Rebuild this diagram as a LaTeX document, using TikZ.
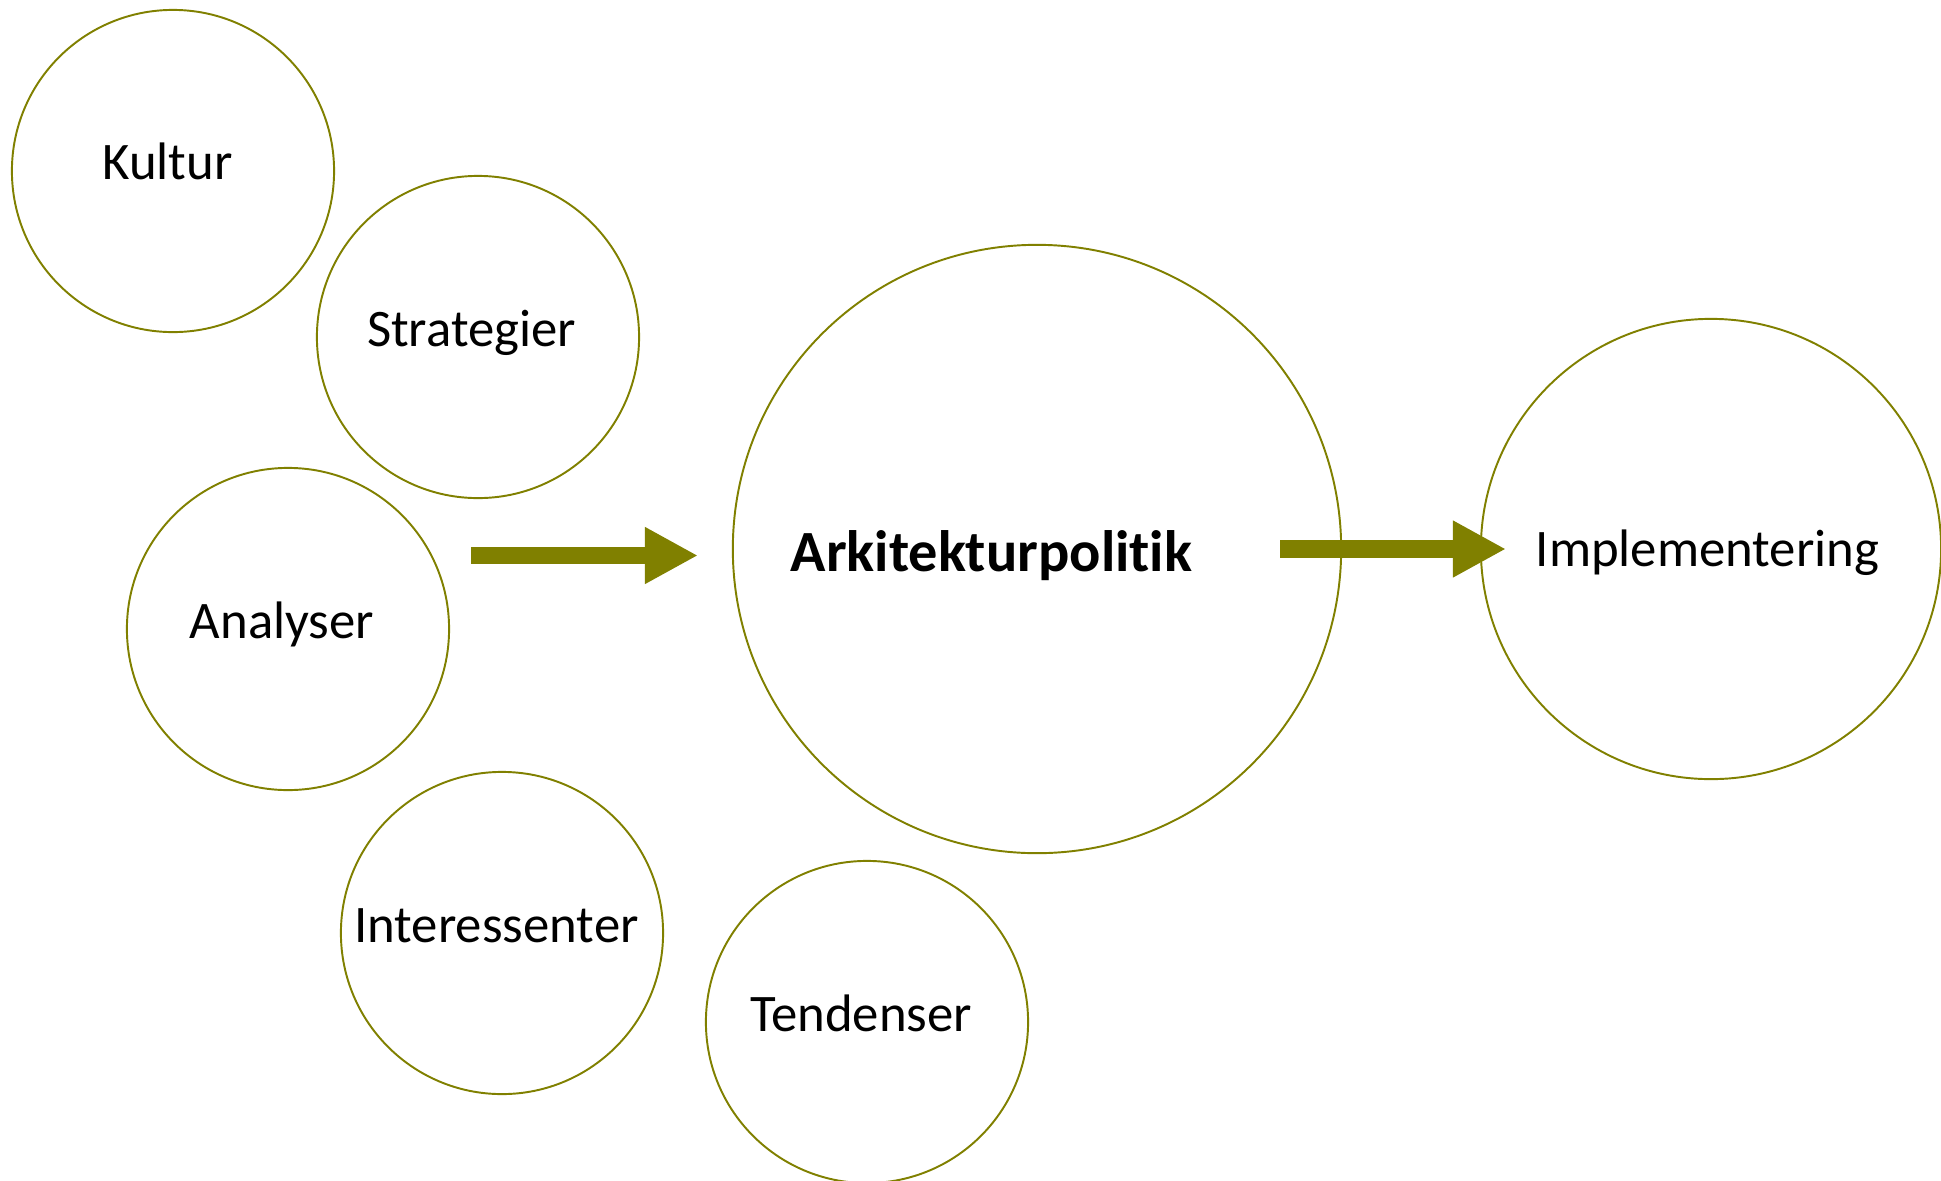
\documentclass[tikz,border=0pt]{standalone}
\usepackage{fontspec}
\setmainfont{Carlito}[Ligatures=NoCommon]
\usetikzlibrary{arrows.meta}
\definecolor{olivegreen}{RGB}{128,128,0}
\tikzset{
  bubble/.style={circle,draw=olivegreen,line width=0.55pt,minimum size=3.22cm,inner sep=0pt},
  lbl/.style={anchor=base,inner sep=0pt,font=\fontsize{15}{18}\selectfont},
  flow/.style={draw=olivegreen,line width=0.175cm,-{Triangle[length=0.53cm,width=0.53cm,fill=olivegreen]}}
}
\begin{document}
\begin{tikzpicture}[x=0.01cm,y=-0.01cm]
\useasboundingbox (0,0) rectangle (1941,1181);
% arrows
\coordinate (inS) at (471,555.5);
\coordinate (inE) at (698,555.5);
\coordinate (outS) at (1280,549);
\coordinate (outE) at (1506,549);
\draw[flow] (inS)--(inE);
\draw[flow] (outS)--(outE);
% circles
\node[bubble] (kultur) at (173,171) {};
\node[bubble] (strategier) at (478,337) {};
\node[bubble] (analyser) at (288,629) {};
\node[bubble] (interessenter) at (502,933) {};
\node[bubble] (tendenser) at (867,1022) {};
\node[bubble,minimum size=6.08cm] (politik) at (1037,549) {};
\node[bubble,minimum size=4.60cm] (impl) at (1711,549) {};
% labels
\node[lbl] (kulturT) at (167.5,179) {Kultur};
\node[lbl] (strategierT) at (471.5,346) {Strategier};
\node[lbl] (analyserT) at (282,638) {Analyser};
\node[lbl] (interessenterT) at (496.5,942) {Interessenter};
\node[lbl] (tendenserT) at (861,1031.5) {Tendenser};
\node[lbl,font=\fontsize{16.6}{20}\selectfont\bfseries] (politikT) at (991.5,571) {Arkitekturpolitik};
\node[lbl] (implT) at (1707.5,566.5) {Implementering};
\end{tikzpicture}
\end{document}
